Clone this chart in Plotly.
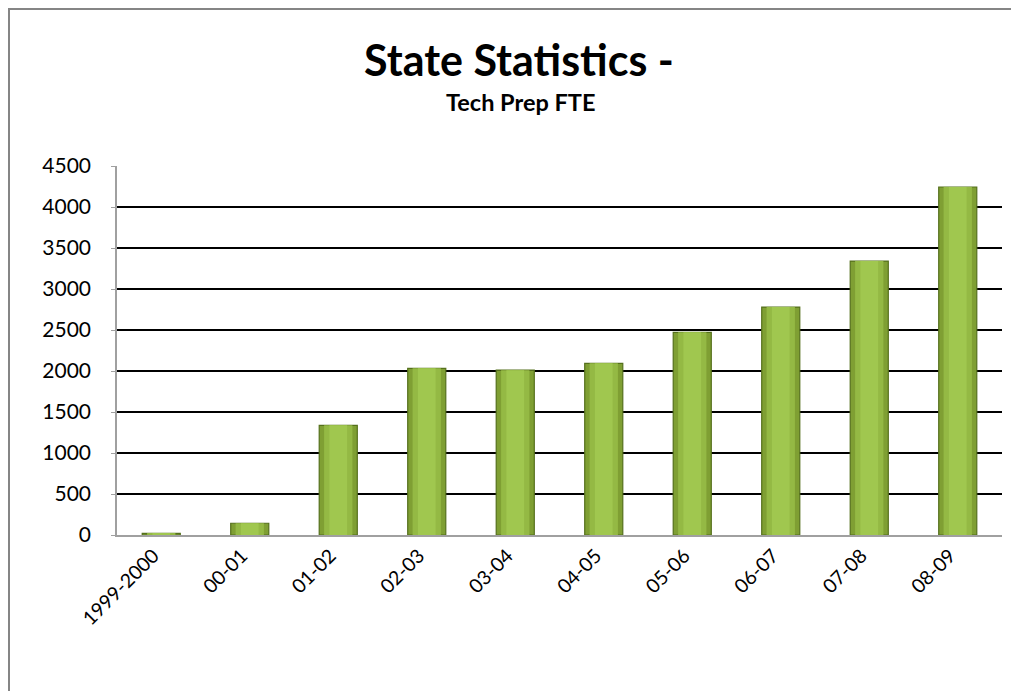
import plotly.graph_objects as go

categories = ["1999-2000", "00-01", "01-02", "02-03", "03-04", "04-05",
              "05-06", "06-07", "07-08", "08-09"]
fte = [20, 143, 1338, 2033, 2010, 2094, 2472, 2780, 3341, 4244]
y_ticks = [0, 500, 1000, 1500, 2000, 2500, 3000, 3500, 4000, 4500]

# page has an 8px body margin, so the figure is drawn 8px in from the page edge
OFF = 8
W, H = 1019 - OFF, 691 - OFF
L, R, T, B = 117 - OFF, 17, 166 - OFF, 156
FONT = "Lato, Carlito, Open Sans, sans-serif"

fig = go.Figure()
# layered bars to suggest the rounded gradient look
fig.add_trace(go.Bar(x=categories, y=fte, width=0.43,
                     marker=dict(color="#7f9f33", line=dict(color="#55701c", width=1.2)),
                     hoverinfo="y", showlegend=False))
fig.add_trace(go.Bar(x=categories, y=fte, width=0.32,
                     marker=dict(color="#94b944", line=dict(width=0)),
                     hoverinfo="skip", showlegend=False))
fig.add_trace(go.Bar(x=categories, y=fte, width=0.2,
                     marker=dict(color="#a0c74f", line=dict(width=0)),
                     hoverinfo="skip", showlegend=False))

pw = W - L - R
ph = H - T - B
def px_x(x):
    return (x - OFF - L) / pw
def px_y(y):
    return (H - B - (y - OFF)) / ph

fig.update_layout(
    width=W, height=H,
    margin=dict(l=L, r=R, t=T, b=B, pad=0),
    paper_bgcolor="white", plot_bgcolor="white",
    barmode="overlay",
    font=dict(family=FONT, color="black"),
    xaxis=dict(type="category", showgrid=False, showline=True, linecolor="#a0a0a0",
               linewidth=1.5, tickangle=-45, tickfont=dict(size=19.5, family=FONT),
               ticks="", ticklabelstandoff=0, ticklabelshift=-8),
    yaxis=dict(range=[0, 4500], tickvals=y_ticks, showgrid=True, gridcolor="black",
               gridwidth=1.8, zeroline=False, showline=True, linecolor="#a0a0a0",
               linewidth=1.5, ticks="outside", ticklen=4, tickcolor="#a0a0a0",
               tickfont=dict(size=21, family=FONT), ticklabelstandoff=16),
    annotations=[
        dict(text="<b>State Statistics -</b>", x=px_x(519), y=px_y(59),
             xref="paper", yref="paper", showarrow=False,
             font=dict(size=43, family=FONT), xanchor="center", yanchor="middle"),
        dict(text="<b>Tech Prep FTE</b>", x=px_x(520), y=px_y(102),
             xref="paper", yref="paper", showarrow=False,
             font=dict(size=23.5, family=FONT), xanchor="center", yanchor="middle"),
    ],
    shapes=[
        dict(type="line", xref="paper", yref="paper", x0=px_x(8), x1=px_x(1030),
             y0=px_y(9), y1=px_y(9), line=dict(color="#858585", width=2)),
        dict(type="line", xref="paper", yref="paper", x0=px_x(9), x1=px_x(9),
             y0=px_y(8), y1=px_y(700), line=dict(color="#858585", width=2)),
    ],
)

fig.write_html("out.html")
